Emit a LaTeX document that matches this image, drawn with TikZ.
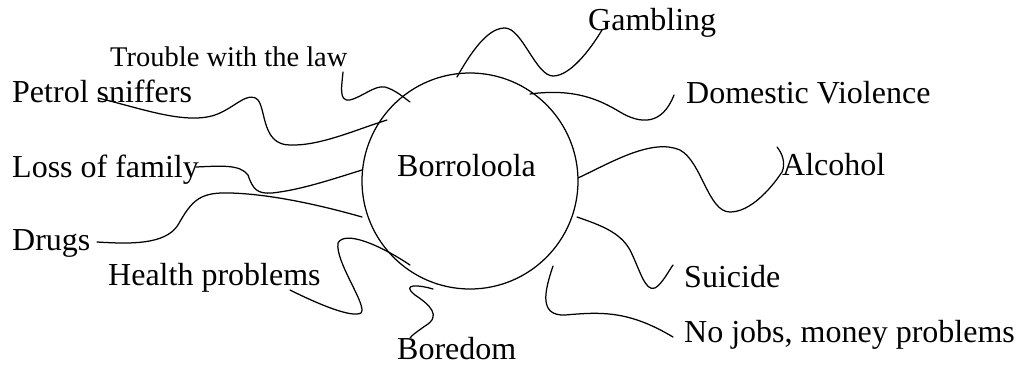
\documentclass[tikz,border=0pt]{standalone}
\usepackage{fontspec}
\setmainfont{Liberation Serif}
\begin{document}
\begin{tikzpicture}[x=1pt,y=-1pt,
  lbl/.style={anchor=base west,inner sep=0pt,font=\fontsize{32}{38}\selectfont},
  smalllbl/.style={anchor=base west,inner sep=0pt,font=\fontsize{28.5}{34}\selectfont},
  wig/.style={line width=1.25pt,line cap=round,line join=round}]
\useasboundingbox (0,0) rectangle (1020,367);
\fill[white] (0,0) rectangle (1020,367);
% hub
\draw[line width=1.25pt] (470,181) circle[radius=108];
\node[lbl] (hub) at (397,176) {Borroloola};
% labels
\node[lbl] (gamb) at (588,30) {Gambling};
\node[lbl] (dv) at (686,103) {Domestic Violence};
\node[lbl] (alc) at (782,175) {Alcohol};
\node[lbl] (sui) at (684,287) {Suicide};
\node[lbl] (jobs) at (684,342) {No jobs, money problems};
\node[lbl] (bore) at (397,359) {Boredom};
\node[lbl] (health) at (108,285) {Health problems};
\node[lbl] (drugs) at (12,250) {Drugs};
\node[lbl] (loss) at (12,177) {Loss of family};
\node[lbl] (petrol) at (12,102) {Petrol sniffers};
\node[smalllbl] (law) at (110,66) {Trouble with the law};
% connector ends
\coordinate (g1) at (457,77);   \coordinate (g2) at (602,30);
\coordinate (d1) at (530,94);   \coordinate (d2) at (674,95);
\coordinate (a1) at (578,178);  \coordinate (a2) at (777,147);
\coordinate (s1) at (577,217);  \coordinate (s2) at (673,265);
\coordinate (j1) at (553,266);  \coordinate (j2) at (673,337);
\coordinate (b1) at (433,289);  \coordinate (b2) at (410,338);
\coordinate (h1) at (410,265);  \coordinate (h2) at (290,290);
\coordinate (r1) at (362,217);  \coordinate (r2) at (97,242);
\coordinate (l1) at (362,170);  \coordinate (l2) at (196,167);
\coordinate (p1) at (387,120);  \coordinate (p2) at (98,98);
\coordinate (t1) at (410,102);  \coordinate (t2) at (343,72);
% connectors
\draw[wig] (g1) .. controls (475,45) and (490,28) .. (505,28)
  .. controls (522,28) and (536,76) .. (553,76)
  .. controls (570,76) and (590,50) .. (g2);
\draw[wig] (d1) .. controls (575,88) and (600,100) .. (620,112)
  .. controls (640,124) and (662,126) .. (d2);
\draw[wig] (a1) .. controls (612,162) and (652,138) .. (680,150)
  .. controls (702,162) and (708,212) .. (730,212)
  .. controls (750,212) and (770,190) .. (782,172)
  .. controls (786,163) and (782,153) .. (a2);
\draw[wig] (s1) .. controls (600,225) and (620,232) .. (630,250)
  .. controls (640,270) and (645,292) .. (655,288)
  .. controls (662,284) and (668,272) .. (s2);
\draw[wig] (j1) .. controls (545,290) and (538,316) .. (565,315)
  .. controls (600,312) and (628,310) .. (j2);
\draw[wig] (b1) .. controls (420,285) and (400,283) .. (415,295)
  .. controls (430,305) and (442,316) .. (425,326)
  .. controls (418,331) and (412,335) .. (b2);
\draw[wig] (h1) .. controls (380,245) and (345,230) .. (338,243)
  .. controls (335,262) and (368,306) .. (361,313)
  .. controls (352,318) and (320,305) .. (h2);
\draw[wig] (r2) .. controls (130,244) and (165,245) .. (178,225)
  .. controls (192,200) and (200,192) .. (230,193)
  .. controls (270,194) and (320,205) .. (r1);
\draw[wig] (l2) .. controls (220,166) and (240,164) .. (248,175)
  .. controls (253,190) and (258,194) .. (272,193)
  .. controls (300,190) and (330,180) .. (l1);
\draw[wig] (p2) .. controls (140,108) and (185,125) .. (215,115)
  .. controls (235,108) and (248,90) .. (258,100)
  .. controls (266,110) and (262,145) .. (290,145)
  .. controls (320,146) and (355,130) .. (p1);
\draw[wig] (t2) .. controls (342,85) and (338,102) .. (350,100)
  .. controls (362,97) and (375,85) .. (385,87)
  .. controls (395,90) and (402,96) .. (t1);
\end{tikzpicture}
\end{document}
